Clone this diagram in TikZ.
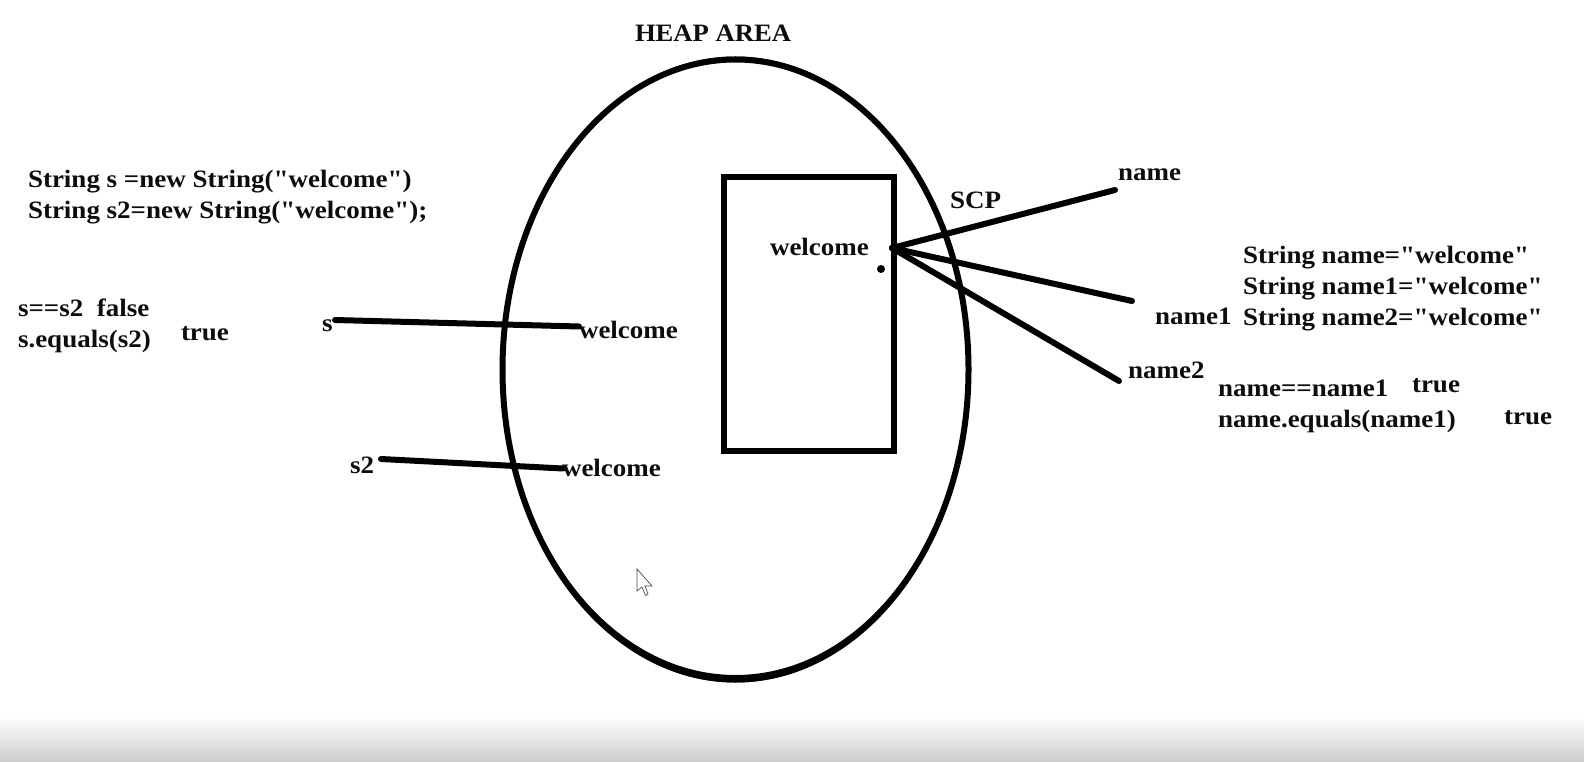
\documentclass[tikz,border=0pt]{standalone}
\usepackage{fontspec}
\newfontfamily\lblfont{Liberation Serif}[FakeStretch=1.08]
\newfontfamily\heapfont{Liberation Serif}[FakeStretch=1.065]
\usetikzlibrary{calc}
\tikzset{
  lbl/.style={anchor=base west,inner sep=0pt,outer sep=0pt,font=\fontsize{25}{25}\lblfont\bfseries,text=black!95},
  heaplbl/.style={lbl,font=\fontsize{25}{25}\heapfont\bfseries},
  stroke/.style={draw=black,line width=6pt,line cap=round},
}
\begin{document}
\begin{tikzpicture}[x=1pt,y=-1pt]
\useasboundingbox (0,0) rectangle (1584,762);
\fill[white] (0,0) rectangle (1584,762);
\shade[top color=white,bottom color=black!20] (0,716) rectangle (1584,762);
% heap
\draw[stroke] (735.5,369.5) ellipse [x radius=233,y radius=310];
\fill[even odd rule] (735.5,369.5) ellipse [x radius=234,y radius=313]
  (735.5,366) ellipse [x radius=232,y radius=309];
% scp box
\draw[draw=black,line width=6pt] (723.5,177) rectangle (894,451);
% coordinates
\coordinate (hub) at (892,248);
\coordinate (nm) at (1115,190);
\coordinate (nmA) at (1132,301);
\coordinate (nmB) at (1119,381);
\coordinate (sA) at (335,320);
\coordinate (sB) at (579,326.5);
\coordinate (tA) at (381,459);
\coordinate (tB) at (563,468.5);
\draw[stroke] (hub) -- (nm);
\draw[stroke] (hub) -- (nmA);
\draw[stroke] (hub) -- (nmB);
\draw[stroke] (sA) -- (sB);
\draw[stroke] (tA) -- (tB);
\fill (881,269) circle (4);
% cursor
\draw[draw=black!70,fill=white,line width=0.7pt] (637,569) -- (637,591) -- (642,587) -- (645.5,595.5) -- (648,594) -- (645,586) -- (652,586) -- cycle;
% labels
\node[heaplbl] (heap) at (635,42) {HEAP AREA};
\node[lbl] (c1) at (28,187.5) {String s =new String("welcome")};
\node[lbl] (c2) at (28,218.5) {String s2=new String("welcome");};
\node[lbl] (c3) at (18,316) {s==s2\ \ false};
\node[lbl] (c4) at (18,347) {s.equals(s2)};
\node[lbl] (c5) at (181,340) {true};
\node[lbl] (vs) at (322,331) {s};
\node[lbl] (vt) at (350,473) {s2};
\node[lbl] (w1) at (579,338) {welcome};
\node[lbl] (w2) at (562,476) {welcome};
\node[lbl] (w3) at (770,255) {welcome};
\node[lbl] (scp) at (950,208) {SCP};
\node[lbl] (ln) at (1118,180.5) {name};
\node[lbl] (lnA) at (1155,324) {name1};
\node[lbl] (lnB) at (1128,378) {name2};
\node[lbl] (d1) at (1243,263) {String name="welcome"};
\node[lbl] (d2) at (1243,294) {String name1="welcome"};
\node[lbl] (d3) at (1243,325.5) {String name2="welcome"};
\node[lbl] (e1) at (1218,396) {name==name1};
\node[lbl] (e2) at (1218,427) {name.equals(name1)};
\node[lbl] (e3) at (1412,392) {true};
\node[lbl] (e4) at (1504,424) {true};
\end{tikzpicture}
\end{document}
